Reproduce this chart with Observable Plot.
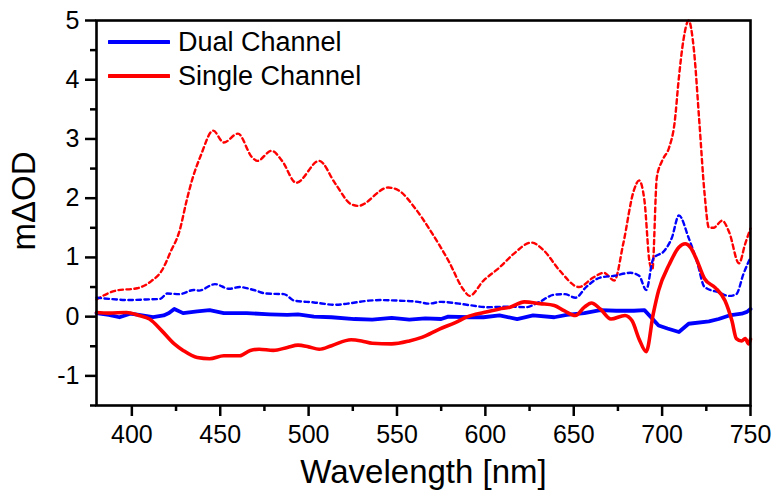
<!DOCTYPE html>
<html>
<head>
<meta charset="utf-8">
<script src="https://cdn.jsdelivr.net/npm/d3@7"></script>
<script src="https://cdn.jsdelivr.net/npm/@observablehq/plot@0.6"></script>
<style>
  body { margin: 0; background: #fff; font-family: "Liberation Sans", Arial, sans-serif; }
  #wrap { position: relative; width: 773px; height: 494px; }
  #legend { position: absolute; left: 108px; top: 25px; font-size: 27px; color: #000; }
  #legend .row { display: flex; align-items: center; height: 34px; }
  #legend svg { margin-right: 8px; }
</style>
</head>
<body>
<div id="wrap"><div id="legend"></div></div>
<script>
// Series names (legend)
const seriesNames = ["Dual Channel", "Single Channel"];
const seriesColors = ["#0000ff", "#ff0000"];

// Dual channel signal (solid blue)
const dualSignalWl = [380, 387, 393, 399, 404, 412, 418, 421, 424, 429, 437, 444, 452, 465, 478, 488, 494, 503, 513, 526, 536, 547, 557, 566, 575, 579, 591, 599, 608, 618, 627, 639, 646, 656, 665, 674, 684, 690, 698, 703, 709.5, 715, 726.5, 732, 738, 745, 748, 750];
const dualSignalOD = [0.06, 0.03, -0.01, 0.05, 0.03, -0.01, 0.02, 0.06, 0.13, 0.06, 0.09, 0.11, 0.06, 0.06, 0.04, 0.03, 0.04, 0.0, -0.01, -0.04, -0.05, -0.02, -0.05, -0.03, -0.04, 0.0, -0.01, -0.01, 0.02, -0.04, 0.02, -0.01, 0.03, 0.06, 0.11, 0.1, 0.1, 0.11, -0.15, -0.2, -0.26, -0.12, -0.08, -0.04, 0.02, 0.05, 0.08, 0.13];

// Single channel signal (solid red)
const singleSignalWl = [380, 387, 397, 404, 410, 417, 424, 429, 437, 444, 452, 461, 467, 472, 480, 488, 494, 500, 506, 513, 524, 530, 536, 547, 557, 564, 574, 583, 590, 599, 608, 614, 622, 631, 639, 644.5, 651, 656, 660, 665, 671, 679, 683, 687, 691, 695, 698, 704, 709.5, 713, 716, 719, 724, 730, 735.6, 739.5, 742, 745, 747, 749, 750];
const singleSignalOD = [0.07, 0.06, 0.07, 0.02, -0.04, -0.24, -0.46, -0.57, -0.69, -0.71, -0.66, -0.66, -0.57, -0.55, -0.57, -0.52, -0.48, -0.51, -0.55, -0.49, -0.39, -0.41, -0.45, -0.46, -0.41, -0.35, -0.21, -0.1, 0.0, 0.07, 0.13, 0.16, 0.25, 0.22, 0.19, 0.1, 0.02, 0.16, 0.23, 0.13, -0.04, 0.02, -0.07, -0.38, -0.59, 0.05, 0.44, 0.88, 1.17, 1.23, 1.17, 1.0, 0.64, 0.49, 0.27, -0.07, -0.37, -0.41, -0.37, -0.46, -0.38];

// Dual channel noise (dashed blue)
const dualNoiseWl = [380, 387, 399, 408, 416, 420, 427, 435, 438, 447, 455, 461, 469, 476, 486, 492, 503, 515, 522, 534, 541, 551, 562, 568, 575, 585, 592, 601, 614, 623, 630, 639, 645, 651, 657, 665, 673, 682, 687, 691, 695, 701.5, 705.5, 709.5, 715, 720, 724, 732, 738, 742, 746, 750];
const dualNoiseOD = [0.32, 0.3, 0.28, 0.29, 0.3, 0.39, 0.38, 0.45, 0.44, 0.55, 0.47, 0.5, 0.45, 0.39, 0.38, 0.27, 0.24, 0.2, 0.22, 0.27, 0.28, 0.27, 0.25, 0.22, 0.25, 0.22, 0.19, 0.16, 0.17, 0.16, 0.24, 0.37, 0.38, 0.32, 0.5, 0.66, 0.69, 0.74, 0.69, 0.45, 0.98, 1.12, 1.33, 1.71, 1.33, 0.9, 0.5, 0.41, 0.35, 0.38, 0.72, 1.0];

// Single channel noise (dashed red)
const singleNoiseWl = [380, 391, 403, 411, 417, 422, 427, 431, 434, 439, 446, 452, 460, 468, 471, 479, 485, 493, 506, 515, 524, 528, 545, 551, 560, 570, 579, 588, 591, 599, 608, 616, 626, 633, 642, 653, 661, 667, 673, 678, 684, 687, 690, 693, 694.5, 697, 700, 704, 707, 709.5, 712, 715, 718, 721, 724, 726.5, 729, 734, 738, 743.5, 747, 750];
const singleNoiseOD = [0.29, 0.44, 0.48, 0.6, 0.78, 1.1, 1.45, 1.96, 2.3, 2.72, 3.14, 2.94, 3.09, 2.69, 2.63, 2.8, 2.63, 2.26, 2.63, 2.25, 1.9, 1.87, 2.18, 2.13, 1.84, 1.4, 0.95, 0.44, 0.35, 0.61, 0.83, 1.06, 1.25, 1.12, 0.78, 0.5, 0.66, 0.74, 0.61, 1.23, 2.13, 2.3, 1.96, 0.9, 0.8, 2.35, 2.63, 2.86, 3.26, 4.04, 4.66, 5.0, 4.5, 3.31, 2.08, 1.5, 1.5, 1.62, 1.42, 0.9, 1.23, 1.49];

// Axis ticks
const xMajorTicks = [400, 450, 500, 550, 600, 650, 700, 750];
const xMinorTicks = [425, 475, 525, 575, 625, 675, 725];
const yMajorTicks = [-1, 0, 1, 2, 3, 4, 5];
const yMinorTicks = [-1.5, -0.5, 0.5, 1.5, 2.5, 3.5, 4.5];
const xLabel = "Wavelength [nm]";
const yLabel = "mΔOD";

const toRows = (wl, od) => wl.map((w, i) => ({wl: w, od: od[i]}));
const dualSignal = toRows(dualSignalWl, dualSignalOD);
const singleSignal = toRows(singleSignalWl, singleSignalOD);
const dualNoise = toRows(dualNoiseWl, dualNoiseOD);
const singleNoise = toRows(singleNoiseWl, singleNoiseOD);

const font = "'Liberation Sans', Arial, sans-serif";

const chart = Plot.plot({
  width: 773,
  height: 494,
  marginLeft: 96,
  marginRight: 23,
  marginTop: 20,
  marginBottom: 89,
  x: {domain: [380, 750]},
  y: {domain: [-1.5, 5]},
  style: {fontFamily: font, fontSize: "25px", color: "#000", background: "#fff", overflow: "visible"},
  marks: [
    Plot.line(singleNoise, {x: "wl", y: "od", stroke: seriesColors[1], strokeWidth: 2.4, strokeDasharray: "4.5,3.5", curve: "monotone-x"}),
    Plot.line(dualNoise, {x: "wl", y: "od", stroke: seriesColors[0], strokeWidth: 2.4, strokeDasharray: "4.5,3.5", curve: "monotone-x"}),
    Plot.line(dualSignal, {x: "wl", y: "od", stroke: seriesColors[0], strokeWidth: 3.8, curve: "linear"}),
    Plot.line(singleSignal, {x: "wl", y: "od", stroke: seriesColors[1], strokeWidth: 3.6, curve: "monotone-x"}),
    Plot.frame({stroke: "#000", strokeWidth: 2.6}),
    Plot.axisX({ticks: xMajorTicks, tickSize: 11, tickPadding: 9, strokeWidth: 2.5, label: null, tickFormat: d => String(d), fontSize: 25}),
    Plot.axisX({ticks: xMinorTicks, tickSize: 6, text: null, strokeWidth: 2.5, label: null}),
    Plot.axisY({ticks: yMajorTicks, tickSize: 11, tickPadding: 6, strokeWidth: 2.5, label: null, tickFormat: d => String(d), fontSize: 25}),
    Plot.axisY({ticks: yMinorTicks, tickSize: 6, text: null, strokeWidth: 2.5, label: null}),
    Plot.text([xLabel], {frameAnchor: "bottom", textAnchor: "middle", lineAnchor: "middle", dy: 67, fontSize: 33, fill: "#000", text: d => d}),
    Plot.text([yLabel], {frameAnchor: "left", textAnchor: "middle", lineAnchor: "middle", dx: -72, dy: -12, rotate: -90, fontSize: 33, fill: "#000", text: d => d})
  ]
});

document.getElementById("wrap").prepend(chart);

// Legend (HTML overlay inside the plot frame)
const legend = d3.select("#legend");
seriesNames.forEach((name, i) => {
  const row = legend.append("div").attr("class", "row");
  const sw = row.append("svg").attr("width", 62).attr("height", 8);
  sw.append("line").attr("x1", 1).attr("x2", 61).attr("y1", 4).attr("y2", 4)
    .attr("stroke", seriesColors[i]).attr("stroke-width", 4).attr("stroke-linecap", "round");
  row.append("span").text(name);
});
</script>
</body>
</html>
